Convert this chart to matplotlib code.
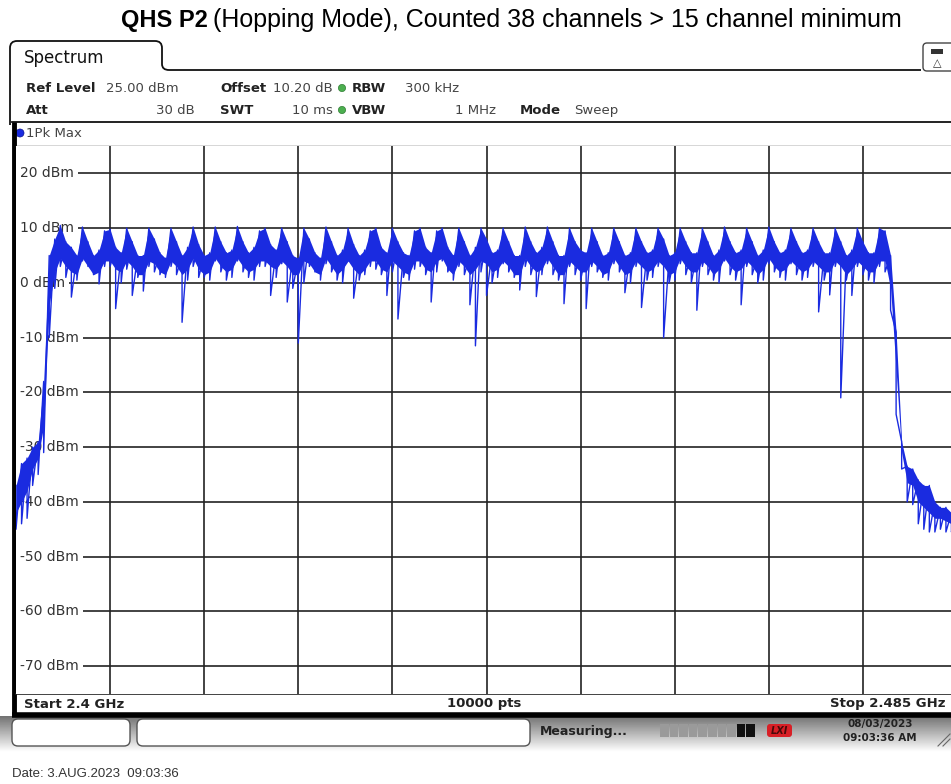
import numpy as np
import matplotlib
matplotlib.use("Agg")
import matplotlib.pyplot as plt
from matplotlib.patches import FancyBboxPatch, Rectangle, Circle, PathPatch
from matplotlib.path import Path

# sweep settings
start_mhz = 2400.0
stop_mhz = 2485.0
ref_level = 25.0
bottom_level = -75.0
y_ticks = [20, 10, 0, -10, -20, -30, -40, -50, -60, -70]
x_grid = [2408.5, 2417, 2425.5, 2434, 2442.5, 2451, 2459.5, 2468, 2476.5]

# trace, one value every 0.5 MHz (dBm)
# top of the trace
trace_hi = [-37, -33, -32, -30, -29, -18, 5, 8, 10.5, 7.5, 6.5, 5, 10.2, 7.5, 5, 6, 9.5, 9.8, 6.5, 5.5,
            10, 7.5, 5, 5, 10, 8, 5.5, 4.5, 10, 7.5, 5, 6.5, 10.2, 7, 5, 5.5, 10.2, 7.5, 5.5, 6,
            10.3, 7.5, 5.5, 6.5, 9.5, 10, 7, 6, 10, 7.5, 5, 4.5, 10, 8, 5.5, 4.5, 10.2, 7.5, 5, 6,
            10, 7, 5, 6, 9.5, 10, 6.5, 5.5, 10, 7.5, 5.5, 5, 9.5, 10, 6.5, 5.5, 9.5, 10, 6.5, 5,
            10, 7.5, 5, 6.5, 10, 8, 5.5, 6, 10, 7.5, 5, 5, 10.2, 7.5, 5.5, 6.5, 10.2, 7.5, 5, 5,
            10, 7.5, 6, 5.5, 10, 7.5, 5, 5.5, 10, 7.5, 5, 5.5, 10, 7.5, 5.5, 6, 10, 8, 5, 5.5,
            10, 7.5, 5.5, 5.5, 10, 7.5, 5, 6, 10.2, 7.5, 5.5, 6, 10, 7.5, 5, 6, 10.2, 7.5, 5.5, 6,
            10, 7.5, 5.5, 6, 10, 7.5, 5.5, 5.5, 10, 7.5, 5, 6, 10, 7.5, 5.5, 5.5, 10, 9.5, 5, -9,
            -29, -33.5, -34, -36, -37, -37, -40, -41, -41, -42, -41]
# lower edge of the dense part of the trace
trace_core = [-42, -40, -38, -34, -32, -26, -4, 2, 4.5, 3, 2, 1.5, 4.5, 3, 1.5, 2, 4, 4, 2.5, 2,
              4, 3, 1.5, 1.5, 4, 3.5, 2, 1.5, 4, 3, 1.5, 2.5, 4.5, 2.5, 1.5, 2, 4.5, 3, 2, 2.5,
              4.5, 3, 2, 2.5, 4, 4, 3, 2.5, 4, 3, 1.5, 1.5, 4, 3.5, 2, 1.5, 4.5, 3, 1.5, 2.5,
              4, 2.5, 1.5, 2.5, 4, 4, 2.5, 2, 4, 3, 2, 1.5, 4, 4, 2.5, 2, 4, 4.5, 2.5, 1.5,
              4, 3, 1.5, 2.5, 4, 3.5, 2, 2.5, 4, 3, 1.5, 1.5, 4.5, 3, 2, 2.5, 4.5, 3, 1.5, 1.5,
              4, 3, 2, 2, 4, 3, 1.5, 2, 4.5, 3, 1.5, 2, 4, 3, 2, 2.5, 4, 3, 1.5, 2,
              4.5, 3, 2, 2, 4, 3, 1.5, 2.5, 4.5, 3, 2, 2.5, 4, 3, 1.5, 2.5, 4.5, 3, 2, 2.5,
              4, 3, 2, 2.5, 4, 3, 2, 2, 4, 3, 1.5, 2.5, 4, 3, 2, 2, 4, 4, -1, -16,
              -31, -36.5, -37, -40, -41, -42, -43, -43, -43.5, -44, -43.5]
# bottom of the noise, including the single-point dips
trace_lo = [-45, -44, -43, -37, -35, -31, -10, -1, 3, 1, -2.6, 0.5, 4, 3, 1.5, -0.2, 3, 3, -4.7, 0,
            2.5, -2.3, 1, -1.5, 3, 2, 1.5, 1, 3, 1.5, -7.2, 0.5, 3, 1, 1, 0.5, 4, 2, 0.5, 1,
            4, 2, 1, 0.5, 3, 3, -2.3, 1, 3.5, -3.5, -1, -11, 0, 3, 2, 0.5, 3.5, 2, 0.5, 0,
            4, -2.8, 0.5, 1.5, 3, 2.5, 1.5, -2.3, 2, -6.6, 1, 0.5, 2.5, 3, 1.5, -3.5, 2, 4, 2, 0.5,
            3, 1.5, -4, -11.5, 2, -2.3, 0, 1, 3.5, 2, 1, -1.3, 3, 1.5, -2.5, 1.5, 3.5, 1.5, 0.5, -3.8,
            3, 1.5, 0.5, -4.7, 3, 2, 1, 0.5, 3.5, 2, -1.8, 0, 3, -4.5, 0.5, 1, 3, -10, 0, 0.5,
            3.5, 1.5, 0, -5, 3, 1.5, 0.5, 0, 4, 1.5, 0.5, -4, 3, 1.5, 0, 0.5, 3.5, 2, 1, 0.5,
            3.5, 1.5, 0.5, 1, 3, -5.3, 0.5, -2.2, 3, -21, 0.5, -2.3, 3, 1.5, 0.5, 0, 3, 2, -5, -24,
            -34, -40, -40.5, -44, -45, -45.5, -45.5, -45, -45.5, -45.5, -45]

W, H = 951, 784
fig = plt.figure(figsize=(W / 100, H / 100), dpi=100)

# background axes in pixel coords for the instrument frame
bg = fig.add_axes([0, 0, 1, 1])
bg.set_xlim(0, W)
bg.set_ylim(H, 0)
bg.axis("off")

sans = ["Liberation Sans", "DejaVu Sans"]
inst = "DejaVu Sans"
txt = "#222222"
val = "#444444"

# title
bg.text(121, 20, "QHS P2", fontsize=17, fontweight="bold", family=sans, va="center", ha="left")
bg.text(213, 20, "(Hopping Mode), Counted 38 channels > 15 channel minimum", fontsize=18,
        family=sans, va="center", ha="left")

# spectrum tab outline
verts = [(10, 125), (10, 48), (10, 41), (17, 41), (155, 41), (162, 41), (162, 48),
         (162, 64), (162, 70), (169, 70), (921, 70)]
codes = [Path.MOVETO, Path.LINETO, Path.CURVE3, Path.CURVE3, Path.LINETO, Path.CURVE3, Path.CURVE3,
         Path.LINETO, Path.CURVE3, Path.CURVE3, Path.LINETO]
bg.add_patch(PathPatch(Path(verts, codes), fc="none", ec="#111111", lw=1.3))
bg.text(24, 58, "Spectrum", fontsize=12, family=inst, color="#111111", va="center")

# small icon at top right
bg.add_patch(FancyBboxPatch((923, 43), 34, 28, boxstyle="round,pad=0,rounding_size=4",
                            fc="white", ec="#444444", lw=1))
bg.add_patch(Rectangle((931, 49), 12, 5, fc="#333333", ec="none"))
bg.text(937, 63, "\u25b3", fontsize=8, family=inst, ha="center", va="center", color="#333333")

# header settings
row1, row2 = 88, 110
fs = 9.5
bg.text(26, row1, "Ref Level", fontsize=fs, fontweight="bold", family=inst, color=txt, va="center")
bg.text(106, row1, "25.00 dBm", fontsize=fs, family=inst, color=val, va="center")
bg.text(220, row1, "Offset", fontsize=fs, fontweight="bold", family=inst, color=txt, va="center")
bg.text(333, row1, "10.20 dB", fontsize=fs, family=inst, color=val, va="center", ha="right")
bg.text(352, row1, "RBW", fontsize=fs, fontweight="bold", family=inst, color=txt, va="center")
bg.text(405, row1, "300 kHz", fontsize=fs, family=inst, color=val, va="center")
bg.text(26, row2, "Att", fontsize=fs, fontweight="bold", family=inst, color=txt, va="center")
bg.text(195, row2, "30 dB", fontsize=fs, family=inst, color=val, va="center", ha="right")
bg.text(220, row2, "SWT", fontsize=fs, fontweight="bold", family=inst, color=txt, va="center")
bg.text(333, row2, "10 ms", fontsize=fs, family=inst, color=val, va="center", ha="right")
bg.text(352, row2, "VBW", fontsize=fs, fontweight="bold", family=inst, color=txt, va="center")
bg.text(496, row2, "1 MHz", fontsize=fs, family=inst, color=val, va="center", ha="right")
bg.text(520, row2, "Mode", fontsize=fs, fontweight="bold", family=inst, color=txt, va="center")
bg.text(574, row2, "Sweep", fontsize=fs, family=inst, color=val, va="center")
for yy in (row1, row2):
    bg.add_patch(Circle((342, yy), 3.6, fc="#4caf50", ec="#2e7d32", lw=0.5))

# trace label row
bg.plot([12, W], [122, 122], color="#111111", lw=1.3)
bg.add_patch(Circle((20, 133), 4, fc="#1a2be0", ec="#0a1590", lw=0.5))
bg.text(26, 133, "1Pk Max", fontsize=9.5, family=inst, color=val, va="center")

# outer thick frame: left and bottom
bg.plot([13.5, 13.5], [122, 716], color="black", lw=3.5, solid_capstyle="butt")
bg.plot([12, W], [714.5, 714.5], color="black", lw=4, solid_capstyle="butt")
bg.plot([16, W], [146, 146], color="#333333", lw=1)
bg.plot([16, W], [693.5, 693.5], color="#222222", lw=1.2)

# bottom annotation bar
bg.text(24, 704, "Start 2.4 GHz", fontsize=9.5, fontweight="bold", family=inst, color=txt, va="center")
bg.text(484, 704, "10000 pts", fontsize=9.5, fontweight="bold", family=inst, color=txt,
        va="center", ha="center")
bg.text(945, 704, "Stop 2.485 GHz", fontsize=9.5, fontweight="bold", family=inst, color=txt,
        va="center", ha="right")

# status bar with gradient
grad = np.linspace(0.45, 1.0, 40).reshape(-1, 1)
bg.imshow(grad, cmap="gray", vmin=0, vmax=1, extent=[0, W, 752, 716], aspect="auto", zorder=0)
bg.set_xlim(0, W)
bg.set_ylim(H, 0)
bg.add_patch(FancyBboxPatch((12, 719), 118, 27, boxstyle="round,pad=0,rounding_size=6",
                            fc="white", ec="#555555", lw=1))
bg.add_patch(FancyBboxPatch((137, 719), 393, 27, boxstyle="round,pad=0,rounding_size=6",
                            fc="white", ec="#555555", lw=1))
bg.text(540, 731, "Measuring...", fontsize=9, fontweight="bold", family=inst, color=txt, va="center")
for k in range(10):
    c = "#111111" if k >= 8 else "#9a9a9a"
    bg.add_patch(Rectangle((660 + k * 9.6, 724), 8.6, 13, fc=c, ec="none"))
bg.add_patch(FancyBboxPatch((767, 724), 25, 13, boxstyle="round,pad=0,rounding_size=3",
                            fc="#d81f26", ec="none"))
bg.text(779.5, 730.5, "LXI", fontsize=7, fontweight="bold", style="italic", family=inst,
        color="#4a0a0a", ha="center", va="center")
bg.text(880, 724, "08/03/2023", fontsize=7.5, fontweight="bold", family=inst, color=txt,
        ha="center", va="center")
bg.text(880, 738, "09:03:36 AM", fontsize=7.5, fontweight="bold", family=inst, color=txt,
        ha="center", va="center")
bg.plot([938, 950], [746, 734], color="#666666", lw=0.8)
bg.plot([943, 950], [746, 739], color="#666666", lw=0.8)

bg.text(12, 774, "Date: 3.AUG.2023  09:03:36", fontsize=9.5, family=sans, color="#333333", va="center")

# data area
x0, x1, yt, yb = 16, 957, 146, 693.5
ax = fig.add_axes([x0 / W, 1 - yb / H, (x1 - x0) / W, (yb - yt) / H])
ax.set_xlim(start_mhz, stop_mhz)
ax.set_ylim(bottom_level, ref_level)
ax.set_facecolor("white")
for s in ax.spines.values():
    s.set_visible(False)
ax.set_xticks([])
ax.set_yticks([])

for xv in x_grid:
    ax.axvline(xv, color="#222222", lw=1.2, zorder=1)
for yv in y_ticks:
    ax.axhline(yv, color="#222222", lw=1.2, zorder=1)
    ax.text(start_mhz + 0.36, yv, f"{yv} dBm", fontsize=10, family=inst, color="#333333",
            ha="left", va="center", zorder=2,
            bbox=dict(fc="white", ec="none", pad=3))

blue = "#1a2be0"
freq = np.linspace(start_mhz, stop_mhz, len(trace_hi))
ax.fill_between(freq, trace_core, trace_hi, color=blue, lw=0, zorder=3)
xs = np.repeat(freq, 2)
ys = np.column_stack([trace_hi, trace_lo]).ravel()
ax.plot(xs, ys, color=blue, lw=1.0, zorder=3)

fig.savefig("out.png", dpi=100)
